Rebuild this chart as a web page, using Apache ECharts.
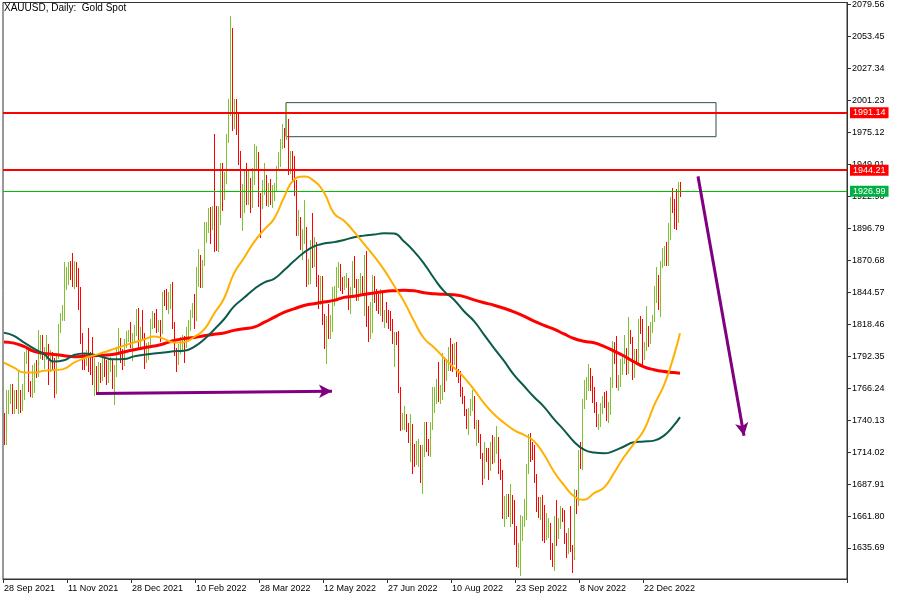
<!DOCTYPE html>
<html><head><meta charset="utf-8">
<script src="https://cdn.jsdelivr.net/npm/echarts@6/dist/echarts.min.js"></script>
<style>html,body{margin:0;padding:0;background:#fff}#c{width:900px;height:600px}</style>
</head><body><div id="c"></div>
<script>
// ---- data ----
const chartTitle = 'XAUUSD, Daily:  Gold Spot';
const startDate = '2021-09-29';
const closedDays = ['2021-12-24', '2022-04-15', '2022-12-26', '2023-01-02'];
// daily bars: [open, close, low, high]
const ohlc = [
// Sep 2021
[1734,1726,1721,1746],[1726,1757,1721,1765],
// Oct 2021
[1757,1761,1746,1765],[1761,1769,1754,1770],[1769,1760,1746,1770],[1760,1763,1746,1765],[1763,1756,1750,1765],
[1756,1757,1746,1781],[1757,1754,1747,1765],[1754,1760,1748,1770],[1760,1793,1757,1796],[1793,1797,1787,1801],
[1797,1768,1764,1797],[1768,1765,1760,1772],[1765,1769,1759,1785],[1769,1783,1763,1787],[1783,1782,1775,1789],
[1782,1792,1776,1814],[1792,1806,1791,1810],[1806,1793,1790,1810],[1793,1798,1783,1800],[1798,1799,1790,1810],
[1799,1783,1770,1802],
// Nov 2021
[1783,1793,1780,1797],[1793,1787,1782,1796],[1787,1769,1759,1791],[1769,1792,1762,1795],[1792,1818,1791,1819],
[1818,1824,1812,1828],[1824,1832,1822,1834],[1832,1849,1822,1869],[1849,1862,1847,1865],[1862,1865,1851,1869],
[1865,1863,1855,1870],[1863,1851,1850,1877],[1851,1868,1848,1870],[1868,1859,1850,1869],[1859,1846,1831,1864],
[1846,1805,1803,1849],[1805,1789,1782,1811],[1789,1788,1782,1795],[1788,1792,1785,1797],[1792,1788,1780,1815],
[1788,1785,1778,1796],[1785,1774,1770,1808],
// Dec 2021
[1774,1782,1761,1791],[1782,1768,1762,1784],[1768,1783,1762,1788],[1783,1779,1771,1787],[1779,1784,1773,1793],
[1784,1783,1776,1792],[1783,1775,1770,1789],[1775,1782,1771,1791],[1782,1787,1780,1792],[1787,1771,1766,1789],
[1771,1777,1753,1785],[1777,1798,1776,1800],[1798,1804,1794,1815],[1804,1790,1788,1807],[1790,1789,1782,1798],
[1789,1803,1785,1806],[1803,1809,1800,1813],[1809,1811,1805,1814],[1811,1805,1800,1820],[1805,1805,1789,1811],
[1805,1815,1804,1818],[1815,1829,1810,1831],
// Jan 2022
[1829,1801,1798,1832],[1801,1815,1799,1816],[1815,1810,1806,1830],[1810,1791,1783,1811],[1791,1797,1788,1803],
[1797,1801,1790,1804],[1801,1822,1800,1823],[1822,1826,1815,1829],[1826,1822,1816,1828],[1822,1817,1812,1831],
[1817,1819,1813,1822],[1819,1813,1805,1822],[1813,1843,1811,1845],[1843,1839,1834,1846],[1839,1835,1831,1847],
[1835,1843,1828,1845],[1843,1848,1832,1851],[1848,1818,1815,1853],[1818,1797,1793,1820],[1797,1791,1780,1799],
[1791,1797,1786,1802],
// Feb 2022
[1797,1801,1795,1808],[1801,1807,1798,1810],[1807,1804,1788,1809],[1804,1808,1800,1816],[1808,1820,1806,1822],
[1820,1827,1814,1830],[1827,1833,1824,1836],[1833,1827,1815,1843],[1827,1859,1822,1865],[1859,1870,1850,1880],
[1870,1853,1849,1875],[1853,1869,1849,1871],[1869,1898,1867,1902],[1898,1898,1886,1902],[1898,1906,1894,1913],
[1906,1898,1885,1914],[1898,1910,1896,1915],[1910,1903,1878,1974],[1903,1889,1879,1915],[1889,1908,1878,1915],
// Mar 2022
[1908,1943,1900,1950],[1943,1923,1912,1950],[1923,1936,1921,1943],[1936,1970,1934,1974],[1970,1998,1967,2002],
[1998,2050,1989,2070],[2050,1990,1977,2060],[1990,2000,1979,2002],[2000,1988,1974,2002],[1988,1951,1949,1990],
[1951,1918,1906,1960],[1918,1926,1895,1933],[1926,1942,1910,1944],[1942,1921,1917,1950],[1921,1936,1917,1945],
[1936,1921,1910,1938],[1921,1943,1914,1946],[1943,1958,1933,1966],[1958,1958,1946,1964],[1958,1922,1915,1959],
[1922,1919,1890,1926],[1919,1933,1913,1936],[1933,1937,1925,1950],
// Apr 2022
[1937,1925,1916,1940],[1925,1932,1915,1934],[1932,1923,1917,1937],[1923,1925,1914,1932],[1925,1931,1920,1934],
[1931,1945,1927,1948],[1945,1954,1945,1959],[1954,1966,1948,1970],[1966,1977,1962,1982],[1977,1974,1963,1979],
[1974,1979,1970,1998],[1979,1950,1941,1986],[1950,1958,1942,1960],[1958,1951,1936,1960],[1951,1932,1924,1956],
[1932,1898,1891,1936],[1898,1904,1891,1912],[1904,1886,1880,1906],[1886,1894,1872,1896],[1894,1897,1885,1920],
// May 2022
[1897,1862,1850,1898],[1862,1868,1851,1872],[1868,1881,1852,1887],[1881,1876,1865,1909],[1876,1883,1866,1890],
[1883,1854,1850,1886],[1854,1838,1832,1859],[1838,1852,1835,1858],[1852,1821,1819,1858],[1821,1811,1799,1827],
[1811,1824,1787,1825],[1824,1815,1807,1835],[1815,1816,1807,1826],[1816,1841,1813,1849],[1841,1846,1834,1850],
[1846,1853,1838,1865],[1853,1866,1849,1869],[1866,1853,1846,1868],[1853,1851,1844,1857],[1851,1853,1847,1858],
[1853,1855,1849,1860],[1855,1837,1831,1856],
// Jun 2022
[1837,1848,1828,1849],[1848,1869,1842,1870],[1869,1851,1849,1874],[1851,1841,1838,1855],[1841,1852,1838,1855],
[1852,1853,1843,1860],[1853,1848,1842,1858],[1848,1871,1826,1875],[1871,1819,1817,1878],[1819,1809,1805,1833],
[1809,1834,1807,1837],[1834,1857,1812,1859],[1857,1840,1837,1858],[1840,1839,1830,1847],[1839,1832,1828,1843],
[1832,1838,1826,1847],[1838,1822,1821,1845],[1822,1827,1816,1830],[1827,1822,1820,1837],[1822,1820,1815,1830],
[1820,1818,1814,1829],[1818,1807,1803,1823],
// Jul 2022
[1807,1811,1784,1812],[1811,1808,1802,1812],[1808,1764,1763,1813],[1764,1739,1732,1767],[1739,1739,1733,1746],
[1739,1742,1733,1752],[1742,1734,1731,1745],[1734,1725,1722,1738],[1725,1735,1707,1745],[1735,1711,1697,1737],
[1711,1708,1703,1721],[1708,1709,1704,1723],[1709,1711,1703,1725],[1711,1695,1690,1720],[1695,1718,1681,1720],
[1718,1727,1711,1739],[1727,1719,1715,1739],[1719,1717,1712,1725],[1717,1734,1711,1739],[1734,1756,1733,1767],
[1756,1766,1747,1767],
// Aug 2022
[1766,1772,1754,1774],[1772,1760,1756,1788],[1760,1765,1754,1769],[1765,1791,1757,1795],[1791,1775,1764,1792],
[1775,1788,1773,1790],[1788,1795,1781,1800],[1795,1792,1781,1807],[1792,1789,1780,1802],[1789,1802,1786,1803],
[1802,1779,1776,1804],[1779,1776,1771,1782],[1776,1761,1760,1780],[1761,1758,1754,1767],[1758,1747,1744,1760],
[1747,1736,1734,1749],[1736,1748,1729,1750],[1748,1751,1744,1757],[1751,1758,1748,1765],[1758,1737,1734,1760],
[1737,1738,1720,1740],[1738,1723,1722,1740],[1723,1711,1709,1729],
// Sep 2022
[1711,1697,1688,1713],[1697,1712,1693,1722],[1712,1710,1707,1717],[1710,1702,1692,1717],[1702,1718,1699,1722],
[1718,1708,1705,1728],[1708,1717,1706,1726],[1717,1724,1713,1735],[1724,1702,1697,1726],[1702,1697,1692,1708],
[1697,1665,1660,1699],[1665,1675,1654,1678],[1675,1677,1660,1680],[1677,1664,1662,1680],[1664,1673,1654,1688],
[1673,1671,1656,1679],[1671,1643,1639,1675],[1643,1622,1621,1654],[1622,1628,1620,1640],[1628,1660,1614,1663],
[1660,1660,1642,1662],[1660,1661,1654,1676],
// Oct 2022
[1661,1699,1659,1704],[1699,1725,1697,1729],[1725,1716,1707,1730],[1716,1712,1708,1722],[1712,1695,1690,1720],
[1695,1668,1666,1696],[1668,1666,1661,1677],[1666,1673,1659,1677],[1673,1666,1642,1679],[1666,1644,1641,1671],
[1644,1650,1643,1664],[1650,1652,1645,1660],[1652,1629,1627,1656],[1629,1627,1621,1640],[1627,1657,1618,1662],
[1657,1649,1638,1675],[1649,1652,1644,1660],[1652,1665,1652,1670],[1665,1663,1658,1668],[1663,1644,1640,1667],
[1644,1633,1628,1648],
// Nov 2022
[1633,1647,1632,1652],[1647,1634,1633,1670],[1634,1629,1616,1638],[1629,1681,1627,1684],[1681,1675,1664,1683],
[1675,1712,1671,1716],[1712,1706,1701,1722],[1706,1755,1700,1757],[1755,1771,1750,1773],[1771,1771,1757,1775],
[1771,1777,1765,1786],[1777,1774,1765,1783],[1774,1761,1755,1776],[1761,1751,1747,1767],[1751,1738,1735,1755],
[1738,1740,1733,1745],[1740,1749,1735,1754],[1749,1755,1746,1760],[1755,1754,1751,1763],[1754,1741,1740,1764],
[1741,1750,1739,1755],[1750,1768,1745,1775],
// Dec 2022
[1768,1803,1767,1805],[1803,1797,1787,1804],[1797,1769,1767,1809],[1769,1771,1765,1777],[1771,1787,1768,1790],
[1787,1789,1778,1794],[1789,1797,1787,1810],[1797,1781,1778,1799],[1781,1810,1779,1824],[1810,1807,1803,1814],
[1807,1777,1774,1808],[1777,1793,1775,1798],[1793,1788,1786,1798],[1788,1817,1786,1823],[1817,1813,1811,1825],
[1813,1792,1785,1823],[1792,1798,1790,1804],[1798,1814,1797,1833],[1814,1804,1801,1817],[1804,1815,1803,1820],
[1815,1824,1812,1826],
// Jan 2023
[1824,1839,1821,1850],[1839,1855,1837,1865],[1855,1833,1831,1859],[1833,1865,1825,1870],[1865,1872,1865,1881],
[1872,1877,1867,1882],[1877,1875,1867,1886],[1875,1897,1867,1901],[1897,1920,1888,1922],[1920,1916,1910,1930],
[1916,1908,1897,1921],[1908,1904,1896,1929],[1904,1932,1902,1935],[1932,1926,1923,1935]
];

const xTickLabels = ['28 Sep 2021','11 Nov 2021','28 Dec 2021','10 Feb 2022','28 Mar 2022','12 May 2022',
  '27 Jun 2022','10 Aug 2022','23 Sep 2022','8 Nov 2022','22 Dec 2022'];
const yTickValues = [1635.69,1661.80,1687.91,1714.02,1740.13,1766.24,1792.35,1818.46,1844.57,
  1870.68,1896.79,1922.90,1949.01,1975.12,2001.23,2027.34,2053.45,2079.56];

// moving averages at these bar indices
const maIdx = [0,5,10,15,20,25,30,35,40,45,50,55,60,65,70,75,80,85,90,95,100,105,110,115,120,125,130,135,
  140,145,150,155,160,165,170,175,180,185,190,195,200,205,210,215,220,225,230,235,240,245,250,255,260,265,
  270,275,280,285,290,295,300,305,310,315,320,325,330,335,338];
const maOrange = [1787,1783,1779,1779,1780.5,1781,1782,1787,1790.5,1793,1795.5,1798.3,1801,1803.5,1806,1808.5,
  1806.5,1803.5,1803.8,1808,1814,1827,1839.5,1860,1872.5,1885.5,1895.5,1904.5,1922,1936.5,1939,1935.5,1926,
  1909,1903,1894,1884,1874,1863,1850,1837,1821,1807,1799.5,1791,1783,1775,1765,1754,1745,1738,1732,1728,1723,
  1712,1698,1687,1678,1675,1680.5,1685,1697,1710,1721,1732,1752,1768.7,1793,1811];
const maTeal = [1811.5,1809,1803.5,1798.5,1794,1788,1789,1793.3,1794.5,1793.5,1791.3,1789.8,1790,1792.2,1793.5,
  1794.5,1795.3,1796.3,1796.7,1800,1806,1814,1822.5,1833,1840,1847,1852.5,1855.5,1862.5,1870,1877,1882,1884.3,
  1885.5,1887.3,1889.5,1890.8,1891.7,1892.7,1892.6,1886,1878,1868,1856,1845.5,1838.5,1829,1821,1810,1799,1788.5,
  1777,1768,1759,1751,1741,1732,1722.5,1716,1713.6,1713,1715,1718.6,1722,1722.6,1723.4,1727.5,1736,1742.6];
const maRed = [1804,1803,1800.3,1796.3,1794.6,1793.8,1792.7,1791.9,1792.3,1792.8,1793.1,1793.9,1795.8,1797.6,
  1799.3,1800.6,1802.5,1805.1,1806.7,1807.6,1809,1810.2,1811.3,1813.4,1814.8,1816.1,1819.9,1824,1828.1,1831,
  1833.7,1835.2,1836.6,1837.9,1840.4,1841.3,1842.7,1844,1845.1,1845.8,1846.2,1845.8,1844.2,1843.3,1842.9,1842.6,
  1841,1838.3,1836,1834,1831.5,1828.5,1825,1821,1817.5,1814.5,1810.5,1806.8,1804.5,1803.3,1800.4,1796.5,1792.5,
  1787.8,1783.7,1781.3,1779.8,1779,1778.5];

const levelsRed = [1991.14, 1944.21];
const levelGreen = 1926.99;
const zoneFrom = [141, 1999.4];
const zoneTo = [356, 1971.6];
const arrowFlat = [[46, 1761.8], [164, 1763.8]];
const arrowDown = [[347, 1939.2], [370, 1727.3]];

// ---- build ----
const TOTAL_SLOTS = 422;
const dates = [];
(function () {
  const d = new Date(startDate + 'T00:00:00Z');
  while (dates.length < ohlc.length) {
    const s = d.toISOString().slice(0, 10);
    const wd = d.getUTCDay();
    if (wd !== 0 && wd !== 6 && closedDays.indexOf(s) < 0) dates.push(s);
    d.setUTCDate(d.getUTCDate() + 1);
  }
})();
const categories = dates.slice();
for (let i = categories.length; i < TOTAL_SLOTS; i++) categories.push('f' + i);

const UP = '#80c030', DOWN = '#ff0000';
const barRows = ohlc.map((b, i) => [i, b[0], b[1], b[2], b[3]]);
const pairs = arr => arr.map((v, k) => [maIdx[k], v]);
const FONT = 'Liberation Sans';
const showTick = idx => idx % 32 === 0 && idx / 32 < xTickLabels.length;

const chart = echarts.init(document.getElementById('c'), null, { renderer: 'canvas' });
chart.setOption({
  animation: false,
  backgroundColor: '#ffffff',
  title: {
    text: chartTitle, left: 4, top: 3, padding: 0,
    textStyle: { fontSize: 10, fontWeight: 'normal', fontFamily: FONT, color: '#000' }
  },
  grid: { left: 3, top: 2, width: 844, height: 577, show: true, borderColor: '#333', borderWidth: 1 },
  xAxis: {
    type: 'category', data: categories, boundaryGap: true,
    axisLine: { show: true, lineStyle: { color: '#333' } },
    axisTick: { show: true, length: 4, interval: showTick, alignWithLabel: false, lineStyle: { color: '#333' } },
    axisLabel: {
      interval: showTick, align: 'left', margin: 5, color: '#000', fontSize: 9, fontFamily: FONT,
      formatter: (v, idx) => xTickLabels[idx / 32]
    },
    splitLine: { show: false }
  },
  yAxis: {
    type: 'value', position: 'right', min: 1610.38, max: 2081.19,
    axisLine: { show: true, lineStyle: { color: '#333' } },
    axisTick: { show: true, length: 4, customValues: yTickValues, lineStyle: { color: '#333' } },
    axisLabel: { customValues: yTickValues, formatter: v => v.toFixed(2), margin: 5, color: '#000', fontSize: 9, fontFamily: FONT },
    splitLine: { show: false }
  },
  series: [
    {
      name: 'levels', type: 'line', data: [], z: 1, silent: true,
      markArea: {
        silent: true,
        itemStyle: { color: 'rgba(0,0,0,0)', borderColor: '#2f4f4f', borderWidth: 1 },
        data: [[{ coord: zoneFrom }, { coord: zoneTo }]]
      },
      markLine: {
        silent: true, symbol: 'none', animation: false,
        data: [
          { yAxis: levelsRed[0], lineStyle: { color: '#ff0000', width: 2, type: 'solid' },
            label: { backgroundColor: '#ff0000' } },
          { yAxis: levelsRed[1], lineStyle: { color: '#ff0000', width: 2, type: 'solid' },
            label: { backgroundColor: '#ff0000' } },
          { yAxis: levelGreen, lineStyle: { color: '#00c000', width: 1, type: 'solid' },
            label: { backgroundColor: '#00b043' } },
          [{ coord: arrowFlat[0], symbol: 'none' },
           { coord: arrowFlat[1], symbol: 'arrow', symbolSize: [10, 13],
             lineStyle: { color: '#800080', width: 3, type: 'solid' }, label: { show: false } }],
          [{ coord: arrowDown[0], symbol: 'none' },
           { coord: arrowDown[1], symbol: 'arrow', symbolSize: [10, 13],
             lineStyle: { color: '#800080', width: 3, type: 'solid' }, label: { show: false } }]
        ],
        lineStyle: { type: 'solid' },
        label: {
          show: true, position: 'end', distance: 3, color: '#fff', fontSize: 9, fontFamily: FONT,
          padding: [1, 3, 0, 3], lineHeight: 10,
          formatter: p => (typeof p.value === 'number' ? p.value.toFixed(2) : '')
        }
      }
    },
    {
      name: 'bars', type: 'custom', data: barRows, z: 2, silent: true,
      encode: { x: 0, y: [3, 4] },
      renderItem: (params, api) => {
        const i = api.value(0), o = api.value(1), c = api.value(2), l = api.value(3), h = api.value(4);
        const top = api.coord([i, h]), bot = api.coord([i, l]);
        const x = Math.round(top[0]) + 0.5;
        return {
          type: 'line',
          shape: { x1: x, y1: Math.round(top[1]), x2: x, y2: Math.round(bot[1]) + 1 },
          style: { stroke: c >= o ? UP : DOWN, lineWidth: 1 }
        };
      }
    },
    { name: 'MA long', type: 'line', data: pairs(maRed), smooth: true, showSymbol: false, z: 3, silent: true,
      lineStyle: { color: '#ff0000', width: 3 } },
    { name: 'MA mid', type: 'line', data: pairs(maTeal), smooth: true, showSymbol: false, z: 4, silent: true,
      lineStyle: { color: '#0b5a4b', width: 2 } },
    { name: 'MA short', type: 'line', data: pairs(maOrange), smooth: true, showSymbol: false, z: 5, silent: true,
      lineStyle: { color: '#ffb000', width: 2 } }
  ]
});
</script></body></html>
